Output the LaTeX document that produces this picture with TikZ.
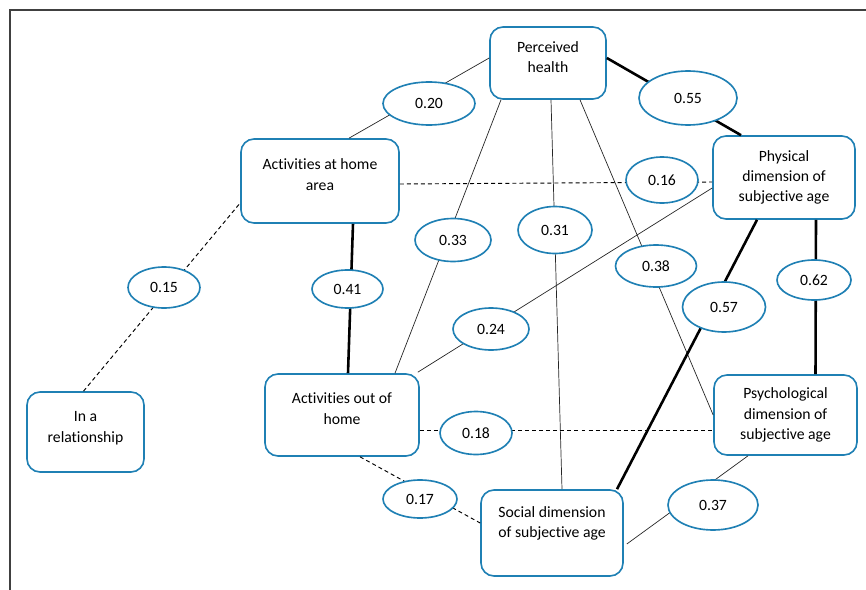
\documentclass[tikz,border=0pt]{standalone}
\usepackage{fontspec}
\setmainfont{Carlito}[Ligatures=NoCommon]
\usetikzlibrary{shapes.geometric, calc}
\definecolor{boxblue}{RGB}{31,128,180}
\tikzset{
	box/.style={
		draw=boxblue,
		fill=white,
		line width=1.4pt,
		rounded corners=0.39cm,
		inner sep=0pt
	},
	txt/.style={
		align=center,
		font=\fontsize{13.4}{17.4}\selectfont
	},
	coef/.style={
		ellipse,
		draw=boxblue,
		fill=white,
		line width=1.4pt,
		inner sep=0pt,
		font=\fontsize{13.4}{17.4}\selectfont
	},
	link/.style={line width=0.6pt, black!85},
	strong/.style={line width=2.2pt},
	weak/.style={line width=0.8pt, dash pattern=on 3.4pt off 2.6pt},
	frame/.style={line width=1.2pt, black!75}
}
\begin{document}
\begin{tikzpicture}[x=0.03cm, y=-0.03cm]
\useasboundingbox (0,0) rectangle (866,590);
\draw[frame] (10,590) -- (10,10) -- (866,10);

\node[box, minimum width=3.48cm, minimum height=2.16cm, label={[txt, name=PHt, yshift=0.17cm]center:Perceived\\health}] (PH) at (548,63) {};
\node[box, minimum width=4.74cm, minimum height=2.52cm, label={[txt, name=AHt, yshift=0.19cm]center:Activities at home\\area}] (AH) at (320,181) {};
\node[box, minimum width=4.26cm, minimum height=2.49cm, label={[txt, name=PHYt]center:Physical\\dimension of\\subjective age}] (PHY) at (784,177.5) {};
\node[box, minimum width=3.51cm, minimum height=2.40cm, label={[txt, name=RELt, yshift=0.11cm]center:In a\\relationship}] (REL) at (85.5,432) {};
\node[box, minimum width=4.62cm, minimum height=2.46cm, label={[txt, name=AOHt, yshift=0.19cm]center:Activities out of\\home}] (AOH) at (342,415) {};
\node[box, minimum width=4.29cm, minimum height=2.40cm, label={[txt, name=PSYt]center:Psychological\\dimension of\\subjective age}] (PSY) at (785.5,415) {};
\node[box, minimum width=4.26cm, minimum height=2.58cm, label={[txt, name=SOCt, yshift=0.29cm]center:Social dimension\\of subjective age}] (SOC) at (552,533) {};

\draw[link] ($(PH.west)+(0,-5)$) -- ($(AH.north)+(29,0)$);
\draw[strong] ($(PH.east)+(0,-5)$) -- ($(PHY.north)+(-43,0)$);
\draw[link] ($(PH.south)+(-47,0)$) -- ($(AOH.north)+(53,0)$);
\draw[link] ($(PH.south)+(3,0)$) -- ($(SOC.north)+(10,0)$);
\draw[link] ($(PH.south)+(32,0)$) -- (PSY.west);
\draw[weak] ($(AH.east)+(0,3)$) -- ($(PHY.west)+(0,4.5)$);
\draw[strong] ($(AH.south)+(33,0)$) -- ($(AOH.north)+(6,0)$);
\draw[weak] ($(REL.north)+(-2,0)$) -- ($(AH.west)+(0,22)$);
\draw[link] ($(AOH.north east)+(-2,-1)$) -- ($(PHY.west)+(0,10.5)$);
\draw[strong] ($(PHY.south)+(-27,0)$) -- ($(SOC.north)+(65,0)$);
\draw[strong] ($(PHY.south)+(32,0)$) -- ($(PSY.north)+(30,0)$);
\draw[weak] ($(AOH.east)+(0,15)$) -- ($(PSY.west)+(0,15)$);
\draw[weak] ($(AOH.south)+(18,0)$) -- ($(SOC.west)+(0,-10)$);
\draw[link] ($(PSY.south)+(-37.5,0)$) -- ($(SOC.east)+(3,11)$);

\node[coef, minimum width=2.76cm, minimum height=1.29cm] (c20) at (429,103.5) {0.20};
\node[coef, minimum width=2.94cm, minimum height=1.62cm] (c55) at (688,98) {0.55};
\node[coef, minimum width=2.16cm, minimum height=1.38cm] (c16) at (662,180) {0.16};
\node[coef, minimum width=2.16cm, minimum height=1.23cm] (c15) at (164,287.5) {0.15};
\node[coef, minimum width=2.13cm, minimum height=1.14cm] (c41) at (347.5,289) {0.41};
\node[coef, minimum width=2.28cm, minimum height=1.29cm] (c33) at (453,240) {0.33};
\node[coef, minimum width=2.22cm, minimum height=1.41cm] (c31) at (555,230) {0.31};
\node[coef, minimum width=2.43cm, minimum height=1.26cm] (c38) at (656,266) {0.38};
\node[coef, minimum width=2.22cm, minimum height=1.20cm] (c62) at (814,280) {0.62};
\node[coef, minimum width=2.49cm, minimum height=1.50cm] (c57) at (724,307) {0.57};
\node[coef, minimum width=2.28cm, minimum height=1.26cm] (c24) at (491,329) {0.24};
\node[coef, minimum width=2.16cm, minimum height=1.29cm] (c18) at (476,433) {0.18};
\node[coef, minimum width=2.22cm, minimum height=1.14cm] (c17) at (420,499) {0.17};
\node[coef, minimum width=2.70cm, minimum height=1.50cm] (c37) at (713,505) {0.37};
\end{tikzpicture}
\end{document}
